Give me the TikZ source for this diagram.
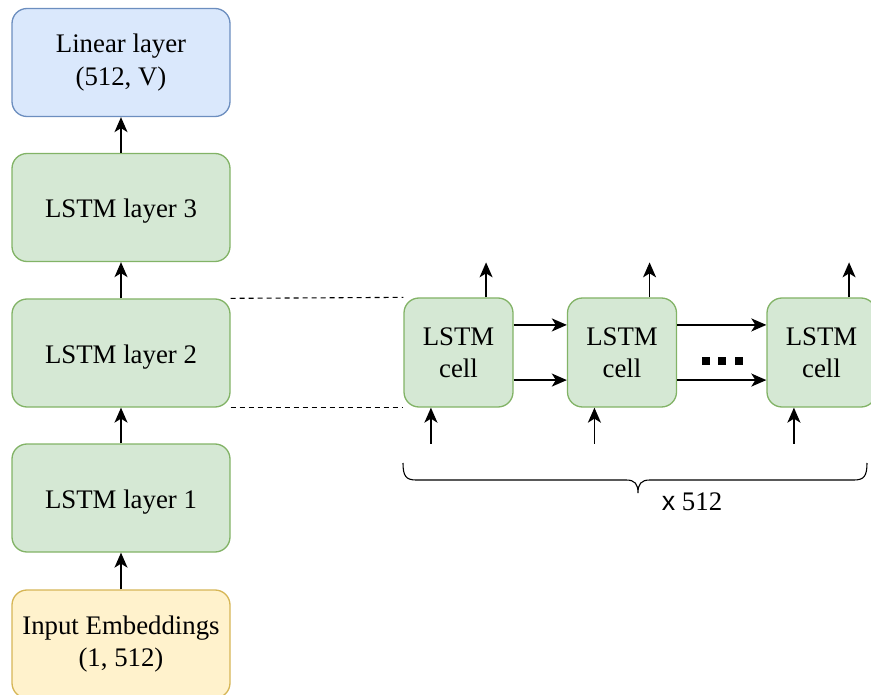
\documentclass[tikz,border=0pt]{standalone}
\usepackage{fontspec}
\setmainfont{Liberation Serif}
\setsansfont{Liberation Sans}
\usetikzlibrary{arrows.meta,calc}

\definecolor{greenfill}{HTML}{D5E8D4}
\definecolor{greenline}{HTML}{82B366}
\definecolor{bluefill}{HTML}{DAE8FC}
\definecolor{blueline}{HTML}{6C8EBF}
\definecolor{yellowfill}{HTML}{FFF2CC}
\definecolor{yellowline}{HTML}{D6B656}

\tikzset{
  box/.style={draw, line width=1.3pt, rounded corners=15pt, align=center,
    font=\fontsize{26.8}{32.4}\selectfont, inner sep=0pt,
    % a strut on the first line sets the text a little lower in the box
    execute at begin node={\rule{0pt}{26.3pt}}},
  layerbox/.style={box, minimum width=218pt, minimum height=108pt},
  cellbox/.style={box, fill=greenfill, draw=greenline, minimum width=109pt, minimum height=109pt},
  flow/.style={line width=1.6pt, -{Stealth[length=15pt,width=13pt,inset=4pt]}},
  guide/.style={line width=1.1pt, dash pattern=on 5pt off 4pt},
}

\begin{document}
\begin{tikzpicture}[x=1pt,y=-1pt]
  \useasboundingbox (0,0) rectangle (871,695);
  \begin{scope}
  \clip (0,0) rectangle (871,695);

  % main stack
  \node[layerbox, fill=bluefill, draw=blueline] (lin) at (121,62.5) {Linear layer\\(512, V)};
  \node[layerbox, fill=greenfill, draw=greenline] (l3) at (121,207.5) {LSTM layer 3};
  \node[layerbox, fill=greenfill, draw=greenline] (l2) at (121,353) {LSTM layer 2};
  \node[layerbox, fill=greenfill, draw=greenline] (l1) at (121,498) {LSTM layer 1};
  \node[layerbox, fill=yellowfill, draw=yellowline] (emb) at (121,644) {Input Embeddings\\(1, 512)};

  \draw[flow] (emb.north) -- (l1.south);
  \draw[flow] (l1.north) -- (l2.south);
  \draw[flow] (l2.north) -- (l3.south);
  \draw[flow] (l3.north) -- (lin.south);

  % unrolled cells
  \node[cellbox] (c1) at (458.5,352.5) {LSTM\\cell};
  \node[cellbox] (c2) at (622,352.5) {LSTM\\cell};
  \node[cellbox] (c3) at (821.5,352.5) {LSTM\\cell};

  \draw[guide] (l2.north east) -- (c1.north west);
  \draw[guide] (l2.south east) -- (c1.south west);

  % recurrent connections
  \draw[flow] ($(c1.north east)!0.25!(c1.south east)$) -- ($(c2.north west)!0.25!(c2.south west)$);
  \draw[flow] ($(c1.north east)!0.75!(c1.south east)$) -- ($(c2.north west)!0.75!(c2.south west)$);
  \draw[flow] ($(c2.north east)!0.25!(c2.south east)$) -- ($(c3.north west)!0.25!(c3.south west)$);
  \draw[flow] ($(c2.north east)!0.75!(c2.south east)$) -- ($(c3.north west)!0.75!(c3.south west)$);

  % inputs and outputs of each cell
  \foreach \c in {c1,c2,c3} {
    \coordinate (\c-top) at ($($(\c.north west)!0.75!(\c.north east)$)+(0,-35)$);
    \coordinate (\c-bot) at ($($(\c.south west)!0.25!(\c.south east)$)+(0,36)$);
    \draw[flow] ($(\c.north west)!0.75!(\c.north east)$) -- (\c-top);
    \draw[flow] (\c-bot) -- ($(\c.south west)!0.25!(\c.south east)$);
  }

  % ellipsis between cells
  \foreach \x in {702,718,735}
    \fill (\x,357) rectangle ++(8,8);

  % brace under the cells
  \draw[line width=1.1pt]
    (403,463) .. controls (403,476) and (406,480) .. (416,480)
    -- (626,480) .. controls (635,480) and (638,484) .. (638,493)
    .. controls (638,484) and (641,480) .. (650,480)
    -- (854,480) .. controls (864,480) and (867,476) .. (867,463);
  \node[font=\fontsize{26.8}{32.4}\selectfont, anchor=base] (rep) at (692,510) {{\sffamily x} 512};
  \end{scope}
\end{tikzpicture}
\end{document}
